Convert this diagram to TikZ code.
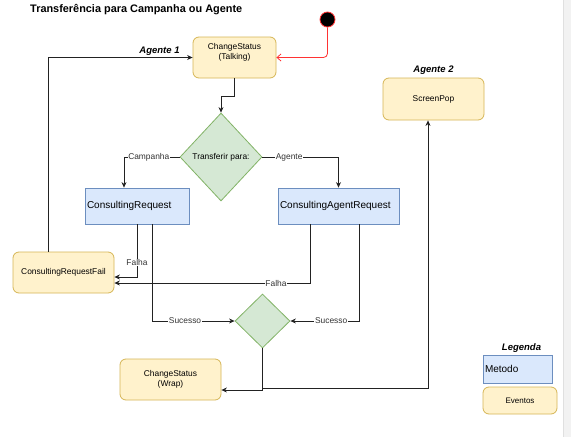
\documentclass[tikz,border=0pt]{standalone}
\usepackage{fontspec}
\setmainfont{Liberation Sans}
\usetikzlibrary{shapes.geometric,arrows.meta,calc}
\definecolor{evfill}{HTML}{FFF2CC}
\definecolor{evdraw}{HTML}{D6B656}
\definecolor{mefill}{HTML}{DAE8FC}
\definecolor{medraw}{HTML}{6C8EBF}
\definecolor{dcfill}{HTML}{D5E8D4}
\definecolor{dcdraw}{HTML}{82B366}
\definecolor{edgecol}{HTML}{222222}
\definecolor{startred}{HTML}{FF3333}
\begin{document}
\begin{tikzpicture}[x=1pt,y=-1pt,
  small/.style={font=\fontsize{8.4}{10}\selectfont},
  evtbox/.style={draw=evdraw,fill=evfill,rounded corners=6pt,line width=0.8pt,inner sep=0pt,small,align=center},
  metbox/.style={draw=medraw,fill=mefill,line width=0.8pt,inner xsep=2pt,inner ysep=0pt,font=\fontsize{10}{12}\selectfont,align=left},
  decbox/.style={diamond,draw=dcdraw,fill=dcfill,line width=0.8pt,inner sep=0pt,small},
  conn/.style={draw=edgecol,line width=0.8pt,-{Stealth[length=5.5pt,width=5pt]}},
  elabel/.style={fill=white,inner sep=0.6pt,small,text=black!80},
  heading/.style={font=\bfseries\itshape\fontsize{9.5}{11}\selectfont},
]
\useasboundingbox (0,0) rectangle (571,437);
\fill[white] (0,0) rectangle (571,437);
\fill[black!5] (563,0) rectangle (571,437);
\draw[black!12,line width=0.6pt] (563.5,0) -- (563.5,437);

% title and headings
\node[font=\bfseries\fontsize{10.9}{13}\selectfont,anchor=base west,inner sep=0pt] (title) at (30,12.5) {Transferência para Campanha ou Agente};
\node[heading] (ag1) at (159.5,51) {Agente 1};
\node[heading] (ag2) at (433.5,70) {Agente 2};
\node[heading] (leg) at (521.5,348) {Legenda};

% nodes
\node[circle,fill=black,draw=startred,line width=0.8pt,minimum size=15pt,inner sep=0pt] (start) at (327.5,19.5) {};
\node[evtbox,minimum width=83pt,minimum height=41pt] (talk) at (234.5,57.5) {};
\node[small,align=center,inner sep=0pt] (talktxt) at (234.5,52) {ChangeStatus\\(Talking)};
\node[evtbox,minimum width=101pt,minimum height=42pt] (pop) at (433.5,99) {ScreenPop};
\node[decbox,minimum width=82pt,minimum height=88pt] (d1) at (221,157) {Transferir para:};
\node[metbox,text width=100pt,minimum height=36pt] (cr) at (137,206) {ConsultingRequest};
\node[metbox,text width=117pt,minimum height=36pt] (car) at (338.5,206) {ConsultingAgentRequest};
\node[evtbox,minimum width=101pt,minimum height=41pt] (fail) at (63.5,272.5) {ConsultingRequestFail};
\node[decbox,minimum width=55pt,minimum height=54pt] (d2) at (262.5,321) {};
\node[evtbox,minimum width=101pt,minimum height=41pt] (wrap) at (170.5,379.5) {ChangeStatus\\(Wrap)};
\node[metbox,text width=65pt,minimum height=28pt] (legm) at (517.5,369) {Metodo};
\node[evtbox,minimum width=74pt,minimum height=27pt,font=\fontsize{8}{10}\selectfont] (lege) at (520,400.5) {Eventos};

% connectors
\draw[draw=startred,line width=0.8pt,rounded corners=4pt,-{Straight Barb[length=4pt,width=7pt]}] (start.south) |- (talk.east);
\draw[conn] ($(fail.north)+(-15.5,0)$) |- (talk.west);
\draw[conn] (talk.south) -- ++(0,17.5) -| (d1.north);
\draw[conn] (d1.west) -| ($(cr.north)+(-13,0)$) node[elabel,pos=0.277] {Campanha};
\draw[conn] (d1.east) -| (car.north) node[elabel,pos=0.176] {Agente};
\draw[conn] (cr.south) |- ($(fail.east)+(0,4.5)$) node[elabel,pos=0.36] {Falha};
\draw[conn] ($(cr.south)+(15,0)$) |- (d2.west) node[elabel,pos=0.7] {Sucesso};
\draw[conn] ($(car.south)+(-28.5,0)$) |- ($(fail.east)+(0,10.5)$) node[elabel,pos=0.587] {Falha};
\draw[conn] ($(car.south)+(20.5,0)$) |- (d2.east) node[elabel,pos=0.703] {Sucesso};
\draw[conn] (d2.south) |- ($(wrap.east)+(0,10.5)$);
\draw[conn] (d2.south) -- ($(d2.south)+(0,40)$) -| ($(pop.south)+(-5.5,0)$);
\end{tikzpicture}
\end{document}
